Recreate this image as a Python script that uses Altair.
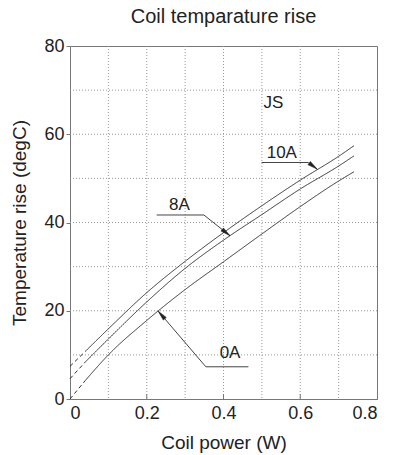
import math
import altair as alt
import pandas as pd

# ---------------- data ----------------
power_x = [0.0, 0.04, 0.1, 0.2, 0.3, 0.4, 0.5, 0.6, 0.7, 0.74]
rise_0a = [0.0, 4.2, 10.0, 17.8, 24.8, 31.1, 37.4, 43.6, 49.4, 51.5]
rise_8a = [4.6, 8.4, 13.6, 22.0, 29.6, 36.0, 41.8, 47.6, 52.8, 55.1]
rise_10a = [7.4, 10.8, 15.9, 24.1, 31.2, 37.7, 43.8, 49.6, 55.0, 57.4]
dash_until = 0.04

grid_x = [0.1, 0.2, 0.3, 0.4, 0.5, 0.6, 0.7]
grid_y = [10, 20, 30, 40, 50, 60, 70]
x_ticks = [0, 0.2, 0.4, 0.6, 0.8]
y_ticks = [0, 20, 40, 60, 80]
x_inner_ticks = [0.2, 0.4, 0.6]

label_text = ["JS", "10A", "8A", "0A"]
label_x = [0.53, 0.552, 0.285, 0.417]
label_y = [67.1, 55.8, 44.0, 10.4]

leader_names = ["10A", "8A", "0A"]
leader_x = [[0.4995, 0.621, 0.644], [0.226, 0.349, 0.417], [0.465, 0.354, 0.23]]
leader_y = [[53.6, 53.6, 52.1], [41.7, 41.7, 37.0], [7.3, 7.3, 19.9]]

W, H = 307, 353
XMAX, YMAX = 0.8, 80

# ---------------- tables ----------------
rows = []
for name, ys_ in [("0A", rise_0a), ("8A", rise_8a), ("10A", rise_10a)]:
    for xv, yv in zip(power_x, ys_):
        if xv <= dash_until:
            rows.append({"curve": name, "seg": "dash", "key": name + "d", "x": xv, "y": yv})
        if xv >= dash_until:
            rows.append({"curve": name, "seg": "solid", "key": name + "s", "x": xv, "y": yv})
curves = pd.DataFrame(rows)

lead_rows, head_rows = [], []
for name, lx, ly in zip(leader_names, leader_x, leader_y):
    for i, (a, b) in enumerate(zip(lx, ly)):
        lead_rows.append({"name": name, "i": i, "x": a, "y": b})
    dxp = (lx[-1] - lx[-2]) * W / XMAX
    dyp = (ly[-1] - ly[-2]) * H / YMAX
    ang = math.degrees(math.atan2(dxp, dyp)) % 360
    head_rows.append({"name": name, "x": lx[-1], "y": ly[-1], "ang": ang})
leaders = pd.DataFrame(lead_rows)
heads = pd.DataFrame(head_rows)
labels = pd.DataFrame({"t": label_text, "x": label_x, "y": label_y})

xs = alt.Scale(domain=[0, XMAX], nice=False, zero=False)
ys = alt.Scale(domain=[0, YMAX], nice=False, zero=False)
ax_x = alt.Axis(values=x_ticks, format="~g", title="Coil power (W)", ticks=False,
                labelPadding=5, titlePadding=11, grid=False)
ax_y = alt.Axis(values=y_ticks, title="Temperature rise (degC)", tickSize=4,
                labelPadding=2, titlePadding=14, grid=False)


def X(field):
    return alt.X(field, scale=xs, axis=ax_x)


def Y(field):
    return alt.Y(field, scale=ys, axis=ax_y)


grid_col = "#9a9a9a"
vgrid = alt.Chart(pd.DataFrame({"gx": grid_x})).mark_rule(
    color=grid_col, strokeDash=[1, 2], strokeWidth=1
).encode(x=X("gx:Q"))
hgrid = alt.Chart(pd.DataFrame({"gy": grid_y})).mark_rule(
    color=grid_col, strokeDash=[1, 2], strokeWidth=1
).encode(y=Y("gy:Q"))

inner = alt.Chart(pd.DataFrame({"tx": x_inner_ticks})).mark_rule(
    color="#777", strokeWidth=1
).encode(x=X("tx:Q"), y=alt.value(H), y2=alt.value(H - 5))

lines = alt.Chart(curves).mark_line(color="#333", strokeWidth=1, interpolate="monotone").encode(
    x=X("x:Q"),
    y=Y("y:Q"),
    detail="key:N",
    strokeDash=alt.StrokeDash("seg:N", scale=alt.Scale(domain=["dash", "solid"], range=[[4, 3], [1, 0]]), legend=None),
)

lead = alt.Chart(leaders).mark_line(color="#444", strokeWidth=1).encode(
    x=X("x:Q"), y=Y("y:Q"), detail="name:N", order="i:Q",
)

arrow = alt.Chart(heads).mark_point(
    shape="M0,0L-0.4,2L0.4,2Z", filled=True, fill="#222", stroke="#222", size=100, opacity=1, strokeWidth=0.5
).encode(
    x=X("x:Q"), y=Y("y:Q"),
    angle=alt.Angle("ang:Q", scale=None),
)

text = alt.Chart(labels).mark_text(
    fontSize=17, font="Liberation Sans", color="#222", align="center", baseline="middle"
).encode(
    x=X("x:Q"), y=Y("y:Q"), text="t:N",
)

chart = alt.layer(vgrid, hgrid, inner, lines, lead, arrow, text).properties(
    width=W, height=H,
    autosize="none",
    padding={"left": 70, "top": 46, "right": 17, "bottom": 56},
    title=alt.TitleParams("Coil temparature rise", fontSize=20, font="Liberation Sans",
                          fontWeight="normal", color="#222", offset=10, anchor="middle"),
).configure_view(stroke="#777", strokeWidth=1).configure_axis(
    domainColor="#777", tickColor="#777", labelColor="#222", titleColor="#222",
    labelFont="Liberation Sans", titleFont="Liberation Sans",
    labelFontSize=18, titleFontSize=19, titleFontWeight="normal",
)

chart.save("out.html", embed_options={"renderer": "svg", "actions": False})
